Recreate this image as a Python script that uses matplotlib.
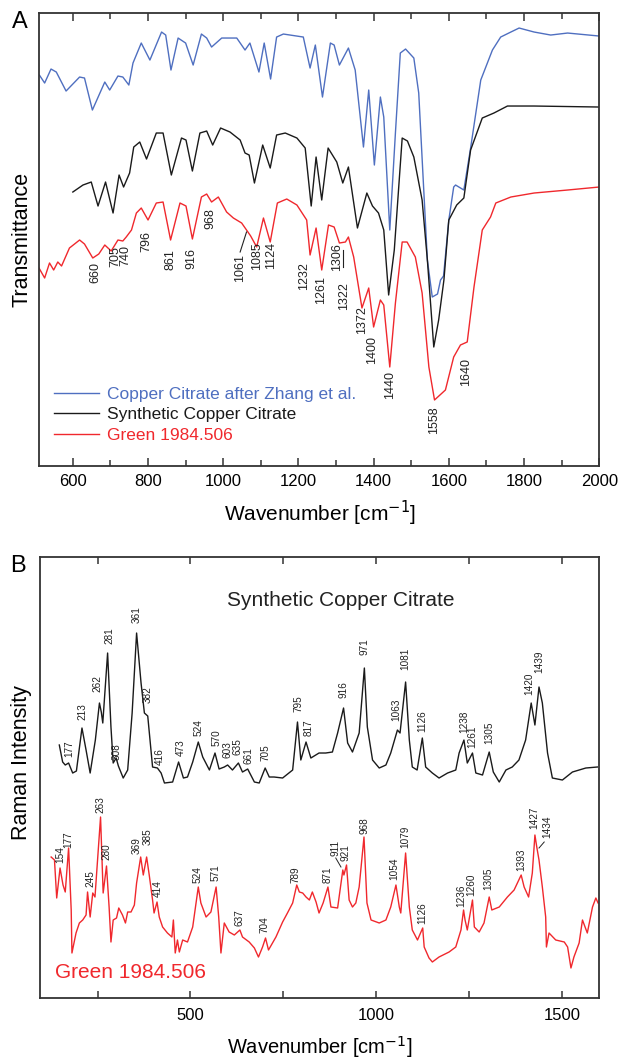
import matplotlib
matplotlib.use("Agg")
import matplotlib.pyplot as plt
from matplotlib.ticker import MultipleLocator, FixedLocator

plt.rcParams['font.family'] = ['Liberation Sans', 'DejaVu Sans']

# ---------------- Panel A: IR transmittance (arbitrary units) ----------------
ir_blue_wn = [510, 511, 525, 542, 556, 582, 618, 631, 652, 685, 698, 720, 733, 749, 760, 782, 805,
              836, 847, 861, 880, 900, 920, 942, 956, 969, 996, 1036, 1058, 1071, 1095, 1109, 1126,
              1142, 1160, 1213, 1231, 1245, 1264, 1285, 1295, 1309, 1333, 1351, 1373, 1387, 1402,
              1418, 1427, 1443, 1458, 1471, 1485, 1507, 1520, 1543, 1556, 1570, 1578, 1586, 1600,
              1613, 1618, 1640, 1658, 1685, 1716, 1738, 1765, 1787, 1827, 1871, 1916, 2000]
ir_blue_t = [391, 391, 383, 397, 394, 375, 389, 388, 356, 384, 376, 390, 389, 381, 403, 423, 406,
             434, 431, 396, 428, 423, 401, 432, 428, 419, 428, 428, 416, 423, 394, 423, 387,
             429, 432, 429, 398, 421, 369, 423, 421, 401, 418, 396, 319, 376, 301,
             369, 349, 236, 333, 413, 417, 408, 373, 206, 169, 172, 186, 190, 246,
             279, 281, 276, 318, 386, 416, 429, 434, 438, 434, 431, 433, 430]

ir_black_wn = [600, 627, 649, 667, 687, 707, 723, 735, 751, 762, 778, 796, 822, 840, 862, 889, 901,
               918, 938, 956, 972, 993, 1018, 1045, 1058, 1069, 1083, 1105, 1125, 1142, 1165, 1196,
               1218, 1234, 1247, 1262, 1279, 1302, 1318, 1333, 1357, 1382, 1397, 1413, 1427, 1440,
               1455, 1476, 1490, 1507, 1529, 1543, 1560, 1573, 1587, 1600, 1621, 1640, 1658, 1689,
               1720, 1756, 1827, 2000]
ir_black_t = [274, 281, 284, 260, 284, 253, 291, 279, 293, 319, 324, 307, 333, 333, 291, 328, 326,
              295, 333, 335, 321, 338, 334, 326, 313, 311, 283, 321, 298, 331, 333, 328,
              318, 260, 309, 266, 318, 304, 283, 299, 238, 273, 260, 253, 236, 171,
              216, 328, 325, 309, 266, 206, 119, 146, 186, 246, 261, 268, 316, 348,
              353, 360, 360, 359]

ir_red_wn = [510, 525, 538, 549, 560, 570, 591, 618, 631, 653, 669, 685, 702, 720, 733, 742, 756,
             769, 782, 800, 822, 840, 860, 885, 901, 918, 942, 956, 969, 987, 1009, 1027, 1049,
             1062, 1073, 1089, 1107, 1125, 1144, 1169, 1196, 1222, 1231, 1247, 1262, 1280, 1295,
             1309, 1325, 1333, 1347, 1369, 1387, 1400, 1418, 1427, 1443, 1458, 1476, 1489, 1511,
             1529, 1547, 1562, 1591, 1613, 1631, 1649, 1667, 1689, 1711, 1725, 1765, 1827, 1916, 2000]
ir_red_t = [198, 188, 203, 196, 204, 200, 218, 226, 222, 208, 212, 221, 215, 226, 225, 229, 236,
            253, 258, 246, 263, 264, 226, 263, 260, 227, 269, 272, 264, 269, 254, 248, 243,
            236, 230, 219, 248, 224, 263, 267, 261, 246, 211, 238, 196, 241, 239,
            223, 224, 229, 209, 158, 178, 139, 166, 161, 99, 163, 224, 224, 209,
            173, 99, 66, 76, 109, 121, 124, 179, 236, 249, 263, 269, 273, 276, 279]

ir_labels = ['660', '705', '740', '796', '861', '916', '968', '1061', '1085', '1124', '1232',
             '1261', '1306', '1322', '1372', '1400', '1440', '1558', '1640']
ir_label_x = [660, 712, 740, 795, 860, 916, 967, 1045, 1089, 1128, 1215, 1261, 1302, 1322, 1368,
              1395, 1444, 1560, 1645]
ir_label_y = [194, 209, 211, 225, 206, 208, 247, 198, 210, 211, 190, 176, 209, 170, 146, 116, 81,
              46, 94]

legend_names = ['Copper Citrate after Zhang et al.', 'Synthetic Copper Citrate', 'Green 1984.506']

# ---------------- Panel B: Raman intensity (arbitrary units) ----------------
ra_black_wn = [147, 156, 163, 172, 183, 193, 208, 219, 230, 244, 255, 260, 264, 277, 286, 292, 300,
               306, 319, 331, 343, 355, 367, 376, 385, 398, 411, 421, 430, 452, 468, 481, 492, 506,
               521, 533, 551, 566, 577, 591, 600, 613, 629, 640, 654, 672, 685, 701, 712, 725, 748,
               775, 788, 797, 811, 824, 846, 864, 882, 896, 912, 923, 936, 954, 968, 976, 990,
               1008, 1026, 1039, 1057, 1064, 1079, 1089, 1097, 1110, 1124, 1133, 1151, 1169, 1192,
               1214, 1223, 1236, 1245, 1259, 1268, 1286, 1304, 1315, 1331, 1349, 1366, 1384, 1402,
               1417, 1427, 1438, 1447, 1461, 1474, 1501, 1528, 1564, 1595]
ra_black_i = [253, 236, 233, 235, 225, 227, 270, 248, 225, 258, 295, 286, 275, 345, 271, 235, 240,
              232, 220, 228, 285, 365, 315, 285, 282, 231, 230, 225, 215, 216, 236, 220, 221, 236,
              256, 241, 228, 245, 229, 231, 233, 228, 235, 226, 229, 216, 215, 230, 221, 221, 220,
              228, 276, 238, 256, 240, 245, 245, 246, 265, 290, 255, 246, 265, 330, 271, 238,
              230, 233, 245, 268, 265, 316, 258, 231, 228, 260, 231, 225, 220, 225,
              228, 245, 258, 235, 245, 225, 223, 246, 226, 216, 228, 231, 238, 258,
              295, 273, 311, 295, 245, 220, 218, 226, 230, 231]

ra_red_wn = [125, 134, 140, 149, 157, 163, 172, 179, 181, 192, 201, 210, 219, 223, 230, 237, 243,
             250, 258, 265, 274, 281, 286, 292, 301, 307, 317, 325, 331, 340, 349, 355, 366, 373,
             382, 389, 398, 402, 410, 416, 425, 438, 450, 454, 459, 465, 470, 479, 492, 506, 521,
             528, 542, 555, 569, 576, 582, 591, 604, 618, 633, 640, 658, 672, 683, 694, 702, 710,
             730, 748, 761, 775, 786, 793, 802, 811, 820, 828, 838, 846, 857, 870, 878, 896, 910,
             913, 920, 927, 936, 945, 954, 967, 975, 986, 1008, 1026, 1039, 1053, 1062, 1066, 1079,
             1089, 1097, 1111, 1125, 1129, 1142, 1151, 1169, 1196, 1214, 1228, 1235, 1239, 1245,
             1259, 1264, 1277, 1290, 1304, 1311, 1331, 1353, 1371, 1390, 1398, 1410, 1420, 1427,
             1432, 1438, 1447, 1456, 1458, 1465, 1483, 1506, 1515, 1524, 1532, 1546, 1555, 1568,
             1582, 1591, 1597]
ra_red_i = [141, 138, 100, 130, 113, 106, 150, 88, 45, 65, 75, 78, 83, 106, 81, 105, 101,
            138, 181, 105, 132, 91, 56, 78, 80, 90, 83, 75, 86, 86, 93, 115, 141, 123,
            141, 123, 98, 85, 96, 81, 71, 65, 61, 78, 45, 58, 46, 58, 56, 71, 111,
            95, 81, 86, 111, 81, 45, 75, 66, 63, 68, 61, 56, 50, 41, 51, 60, 48,
            61, 76, 85, 95, 113, 106, 105, 101, 98, 106, 96, 85, 95, 111, 91, 90, 128,
            123, 133, 98, 91, 95, 111, 161, 95, 78, 75, 78, 91, 113, 91, 85, 145,
            91, 68, 58, 70, 51, 40, 36, 41, 46, 51, 68, 88, 78, 68,
            98, 71, 66, 75, 101, 88, 91, 101, 108, 123, 111, 101, 125, 163,
            151, 138, 111, 81, 51, 65, 58, 56, 51, 30, 41, 55, 78, 65,
            91, 100, 95]

ra_black_labels = ['177', '213', '262', '281', '308', '361', '382', '416', '473', '524', '570', '603',
                   '635', '661', '705', '795', '817', '916', '971', '1063', '1081', '1126', '1238',
                   '1261', '1305', '1420', '1439']
ra_black_lx = [174, 208, 250, 281, 301, 355, 385, 418, 473, 521, 569, 600, 627, 656, 701, 791, 818,
               912, 968, 1053, 1078, 1123, 1237, 1259, 1304, 1411, 1440]
ra_black_ly = [249, 286, 314, 362, 246, 383, 303, 241, 250, 270, 260, 248, 251, 242, 245, 294, 270,
               308, 351, 288, 339, 277, 276, 261, 265, 314, 336]

ra_red_labels = ['154', '177', '245', '263', '280', '369', '385', '414', '524', '571', '637', '704',
                 '789', '871', '911', '921', '968', '1054', '1079', '1126', '1236', '1260', '1305',
                 '1393', '1427', '1434']
ra_red_lx = [149, 172, 232, 259, 275, 355, 385, 412, 519, 567, 631, 699, 784, 869, 889, 918, 968,
             1048, 1078, 1124, 1229, 1256, 1302, 1389, 1425, 1461]
ra_red_ly = [143, 158, 119, 193, 146, 152, 161, 109, 123, 125, 80, 73, 123, 123, 150, 145, 172,
             129, 161, 85, 102, 113, 119, 138, 180, 171]

BLUE = '#4f6fc0'
RED = '#f0282d'
BLACK = '#1a1a1a'

fig = plt.figure(figsize=(6.19, 10.60), dpi=100)
axA = fig.add_axes([0.063, 0.5604, 0.905, 0.4273])
axB = fig.add_axes([0.0646, 0.0585, 0.9034, 0.4160])

for ax in (axA, axB):
    for sp in ax.spines.values():
        sp.set_linewidth(1.3)
        sp.set_color('#333333')
    ax.tick_params(axis='x', which='both', direction='in', top=True, bottom=True,
                   labelsize=12, width=1.1, color='#333333')
    ax.tick_params(axis='y', which='both', left=False, right=False, labelleft=False)

# --- Panel A
line_kw = dict(lw=1.0, solid_joinstyle='round')
axA.plot(ir_blue_wn, ir_blue_t, color=BLUE, label=legend_names[0], **line_kw)
axA.plot(ir_black_wn, ir_black_t, color=BLACK, label=legend_names[1], **line_kw)
axA.plot(ir_red_wn, ir_red_t, color=RED, label=legend_names[2], **line_kw)
axA.set_xlim(510, 2000)
axA.set_ylim(0, 453)
axA.xaxis.set_major_locator(MultipleLocator(200))
axA.xaxis.set_minor_locator(MultipleLocator(100))
axA.tick_params(axis='x', which='major', length=6, pad=6)
axA.tick_params(axis='x', which='minor', length=4)
for t, x, y in zip(ir_labels, ir_label_x, ir_label_y):
    axA.text(x, y, t, rotation=90, ha='center', va='center', fontsize=9, color='#222222')
# leader lines
axA.plot([1045, 1062], [214, 234], color='#222222', lw=0.8)
axA.plot([1318, 1318], [199, 216], color='#222222', lw=0.8)

leg = axA.legend(loc='lower left', bbox_to_anchor=(0.015, 0.035), frameon=False, fontsize=12.5,
                 handlelength=2.6, handletextpad=0.45, labelspacing=0.32, borderaxespad=0.0,
                 labelcolor='linecolor')
axA.set_xlabel('Wavenumber [cm$^{-1}$]', fontsize=15)
axA.xaxis.set_label_coords(0.502, -0.104)
axA.xaxis.label.set_va('center')
axA.set_ylabel('Transmittance', fontsize=15.5)
axA.yaxis.set_label_coords(-0.031, 0.5)
axA.yaxis.label.set_va('center')
fig.text(19.5 / 619, 1 - 21.5 / 1060, 'A', fontsize=17, ha='center', va='center')

# --- Panel B
axB.plot(ra_black_wn, ra_black_i, color=BLACK, **line_kw)
axB.plot(ra_red_wn, ra_red_i, color=RED, **line_kw)
axB.set_xlim(95, 1600)
axB.set_ylim(0, 441)
axB.xaxis.set_major_locator(FixedLocator([500, 1000, 1500]))
axB.xaxis.set_minor_locator(FixedLocator([250, 750, 1250]))
axB.tick_params(axis='x', which='major', length=5, pad=7)
axB.tick_params(axis='x', which='minor', length=5)
for t, x, y in zip(ra_black_labels, ra_black_lx, ra_black_ly):
    axB.text(x, y, t, rotation=90, ha='center', va='center', fontsize=7.2, color='#222222')
for t, x, y in zip(ra_red_labels, ra_red_lx, ra_red_ly):
    axB.text(x, y, t, rotation=90, ha='center', va='center', fontsize=7.2, color='#222222')
axB.plot([891, 905], [140, 131], color='#222222', lw=0.7)
axB.plot([1452, 1438], [156, 150], color='#222222', lw=0.7)

axB.text(0.538, 0.902, 'Synthetic Copper Citrate', transform=axB.transAxes, fontsize=15,
         ha='center', va='center', color='#222222')
axB.text(0.027, 0.057, 'Green 1984.506', transform=axB.transAxes, fontsize=15,
         ha='left', va='center', color=RED)
axB.set_xlabel('Wavenumber [cm$^{-1}$]', fontsize=14.5)
axB.xaxis.set_label_coords(0.501, -0.111)
axB.xaxis.label.set_va('center')
axB.set_ylabel('Raman Intensity', fontsize=15.5)
axB.yaxis.set_label_coords(-0.033, 0.533)
axB.yaxis.label.set_va('center')
fig.text(18 / 619, 1 - 566 / 1060, 'B', fontsize=17, ha='center', va='center')

fig.savefig('out.png', dpi=100)
